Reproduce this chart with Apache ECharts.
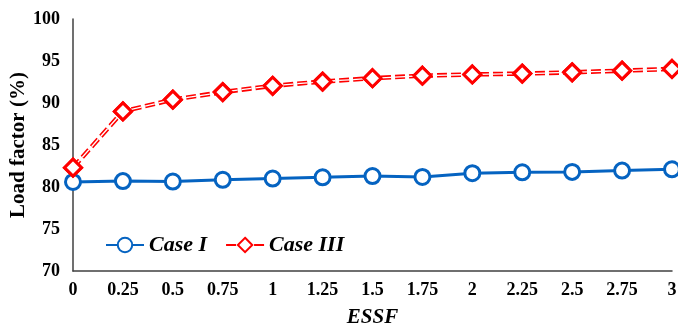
<!DOCTYPE html>
<html>
<head>
<meta charset="utf-8">
<script src="https://cdn.jsdelivr.net/npm/echarts@6/dist/echarts.min.js"></script>
<style>html,body{margin:0;padding:0;background:#fff}#c{width:678px;height:329px}</style>
</head>
<body>
<div id="c"></div>
<script>
const categories = ['0','0.25','0.5','0.75','1','1.25','1.5','1.75','2','2.25','2.5','2.75','3'];
const caseI = [80.6, 80.7, 80.65, 80.85, 81.0, 81.15, 81.3, 81.2, 81.65, 81.75, 81.8, 81.95, 82.1];
const caseIII = [82.3, 89.0, 90.4, 91.3, 92.05, 92.55, 92.95, 93.25, 93.4, 93.5, 93.65, 93.85, 94.05];
const yTicks = [70, 100, 5];

const font = 'Liberation Serif';
const chart = echarts.init(document.getElementById('c'));
chart.setOption({
  animation: false,
  grid: {left: 73, right: 6, top: 19, bottom: 58, containLabel: false, outerBoundsMode: 'none'},
  legend: {
    data: ['Case I', 'Case III'],
    left: 100, top: 229,
    itemWidth: 38, itemHeight: 18, itemGap: 18,
    textStyle: {fontFamily: font, fontWeight: 'bold', fontStyle: 'italic', fontSize: 22, color: '#000'}
  },
  xAxis: {
    type: 'category', data: categories, boundaryGap: false,
    name: 'ESSF', nameLocation: 'middle', nameGap: 36, nameMoveOverlap: false,
    nameTextStyle: {fontFamily: font, fontWeight: 'bold', fontStyle: 'italic', fontSize: 21, color: '#000'},
    axisLine: {lineStyle: {color: '#404040', width: 1.5}},
    axisTick: {show: false},
    axisLabel: {fontFamily: font, fontWeight: 'bold', fontSize: 18, color: '#000', margin: 10, interval: 0}
  },
  yAxis: {
    type: 'value', min: yTicks[0], max: yTicks[1], interval: yTicks[2],
    name: 'Load factor (%)', nameLocation: 'middle', nameGap: 44, nameMoveOverlap: false,
    nameTextStyle: {fontFamily: font, fontWeight: 'bold', fontSize: 21, color: '#000'},
    axisLine: {show: true, lineStyle: {color: '#404040', width: 1.5}},
    axisTick: {show: false},
    splitLine: {show: false},
    axisLabel: {fontFamily: font, fontWeight: 'bold', fontSize: 18, color: '#000', margin: 13}
  },
  series: [
    {
      name: 'Case I', type: 'line', data: caseI,
      symbol: 'circle', symbolSize: 15,
      lineStyle: {color: '#0563C1', width: 3},
      itemStyle: {color: '#fff', borderColor: '#0563C1', borderWidth: 3},
      z: 3
    },
    {
      name: 'Case III', type: 'line', data: caseIII,
      symbol: 'diamond', symbolSize: 17,
      lineStyle: {color: '#FF0000', width: 4.5, type: [10, 4]},
      itemStyle: {color: '#fff', borderColor: '#FF0000', borderWidth: 3},
      z: 4
    },
    {
      name: 'Case III inner', type: 'line', data: caseIII,
      symbol: 'none',
      lineStyle: {color: '#fff', width: 1.3, type: [10, 4]},
      z: 5, silent: true
    },
    {
      name: 'Case III marks', type: 'line', data: caseIII,
      symbol: 'diamond', symbolSize: 17,
      lineStyle: {opacity: 0},
      itemStyle: {color: '#fff', borderColor: '#FF0000', borderWidth: 3},
      z: 6, silent: true
    }
  ]
});
</script>
</body>
</html>
